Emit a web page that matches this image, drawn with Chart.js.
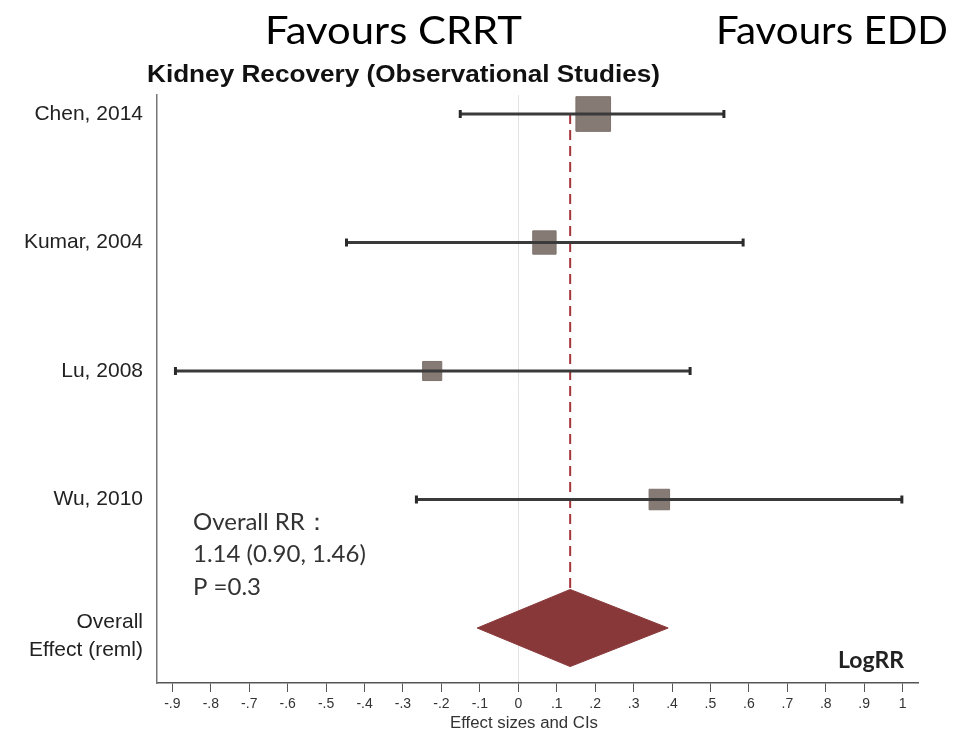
<!DOCTYPE html>
<html>
<head>
<meta charset="utf-8">
<script src="https://cdn.jsdelivr.net/npm/chart.js@4.4.1/dist/chart.umd.min.js"></script>
<style>
html,body{margin:0;padding:0;background:#fff;}
#wrap{width:966px;height:736px;position:relative;}
</style>
</head>
<body>
<div id="wrap"><canvas id="c" width="966" height="736"></canvas></div>
<script>
// ---- data ----
const studies = ['Chen, 2014', 'Kumar, 2004', 'Lu, 2008', 'Wu, 2010'];
const effect = [0.195, 0.068, -0.224, 0.367];
const ciLow = [-0.151, -0.447, -0.892, -0.265];
const ciHigh = [0.535, 0.585, 0.447, 0.998];
const overallLabel = ['Overall', 'Effect (reml)'];
const overallEst = 0.135;
const overallLow = -0.107;
const overallHigh = 0.39;
const xTicks = [-0.9, -0.8, -0.7, -0.6, -0.5, -0.4, -0.3, -0.2, -0.1, 0, 0.1, 0.2, 0.3, 0.4, 0.5, 0.6, 0.7, 0.8, 0.9, 1];
const xTickLabels = ['-.9', '-.8', '-.7', '-.6', '-.5', '-.4', '-.3', '-.2', '-.1', '0', '.1', '.2', '.3', '.4', '.5', '.6', '.7', '.8', '.9', '1'];
const overallText = ['Overall RR\uFF1A', '1.14 (0.90, 1.46)', 'P =0.3'];

// ---- build datasets ----
const rows = studies.map((s, i) => i + 1);
const overallRow = studies.length + 1;
const rowLabels = studies.concat([overallLabel]);
const labelRows = rows.concat([overallRow + 0.065]);

const ciDatasets = studies.map((s, i) => ({
  type: 'line',
  data: [{x: ciLow[i], y: rows[i]}, {x: ciHigh[i], y: rows[i]}],
  borderColor: '#3a3a3a',
  borderWidth: 3,
  pointStyle: 'line',
  rotation: 90,
  pointRadius: 4,
  pointBorderWidth: 3,
  pointBorderColor: '#2a2a2a',
  order: 0
}));

const squares = {
  type: 'scatter',
  data: effect.map((v, i) => ({x: v, y: rows[i]})),
  pointStyle: 'rect',
  pointRadius: [24.5, 16.5, 13.5, 14.5],
  backgroundColor: '#857a74',
  borderColor: '#7d726c',
  borderWidth: 1,
  order: 1
};

const halfH = 0.3;
const dashed = {
  type: 'line',
  data: [{x: overallEst, y: rows[0]}, {x: overallEst, y: overallRow - halfH}],
  borderColor: '#a3353b',
  borderWidth: 2,
  borderDash: [10, 6],
  pointRadius: 0,
  order: 2
};

const diamond = {
  type: 'line',
  data: [
    {x: overallLow, y: overallRow},
    {x: overallEst, y: overallRow - halfH},
    {x: overallHigh, y: overallRow},
    {x: overallEst, y: overallRow + halfH},
    {x: overallLow, y: overallRow}
  ],
  borderColor: '#883839',
  backgroundColor: '#883839',
  borderWidth: 1,
  fill: 'shape',
  pointRadius: 0,
  tension: 0,
  order: 3
};

function fitText(ctx, text, x, y, width) {
  const w = ctx.measureText(text).width;
  const s = width / w;
  ctx.save();
  ctx.translate(x, y);
  ctx.scale(s, 1);
  ctx.fillText(text, 0, 0);
  ctx.restore();
}

const textPlugin = {
  id: 'texts',
  afterDraw(chart) {
    const ctx = chart.ctx;
    ctx.save();
    ctx.textBaseline = 'middle';
    ctx.textAlign = 'left';
    ctx.fillStyle = '#000';
    ctx.font = '39px Lato';
    fitText(ctx, 'Favours CRRT', 265, 31, 257);
    fitText(ctx, 'Favours EDD', 716, 31, 232);

    ctx.font = 'bold 23px "Liberation Sans"';
    ctx.fillStyle = '#111';
    fitText(ctx, 'Kidney Recovery (Observational Studies)', 147, 76, 513);

    ctx.font = '24px Lato';
    ctx.fillStyle = '#333';
    overallText.forEach((t, i) => ctx.fillText(t, 193, 522 + i * 32.5));

    ctx.font = 'bold 23px Lato';
    ctx.fillStyle = '#222';
    ctx.fillText('LogRR', 838, 661);

    ctx.font = '16px "Liberation Sans"';
    ctx.fillStyle = '#333';
    fitText(ctx, 'Effect sizes and CIs', 450, 724, 148);
    ctx.restore();
  }
};

new Chart(document.getElementById('c'), {
  data: {datasets: [...ciDatasets, squares, dashed, diamond]},
  options: {
    responsive: false,
    animation: false,
    layout: {padding: {top: 95, right: 48, left: 0, bottom: 0}},
    plugins: {legend: {display: false}, tooltip: {enabled: false}, title: {display: false}},
    scales: {
      x: {
        type: 'linear',
        min: -0.94,
        max: 1.04,
        afterBuildTicks: s => { s.ticks = xTicks.map(v => ({value: v})); },
        afterFit: s => { s.height = 53; },
        ticks: {
          autoSkip: false,
          maxRotation: 0,
          padding: 4,
          color: '#333',
          font: {family: 'Liberation Sans', size: 14},
          callback: (v, i) => xTickLabels[i]
        },
        grid: {
          color: c => (c.tick && c.tick.value === 0) ? '#e2e2e2' : 'rgba(0,0,0,0)',
          tickColor: '#555',
          tickLength: 9,
          lineWidth: 1
        },
        border: {display: true, color: '#555', width: 1.5}
      },
      y: {
        type: 'linear',
        reverse: true,
        min: 0.852,
        max: 5.428,
        afterBuildTicks: s => { s.ticks = labelRows.map(v => ({value: v})); },
        afterFit: s => { s.width = 157; },
        ticks: {
          autoSkip: false,
          padding: 14,
          color: '#222',
          font: {family: 'Liberation Sans', size: 21, lineHeight: 1.33},
          callback: (v, i) => rowLabels[i]
        },
        grid: {drawOnChartArea: false, drawTicks: false},
        border: {display: true, color: '#777', width: 1.5}
      }
    }
  },
  plugins: [textPlugin]
});
</script>
</body>
</html>
